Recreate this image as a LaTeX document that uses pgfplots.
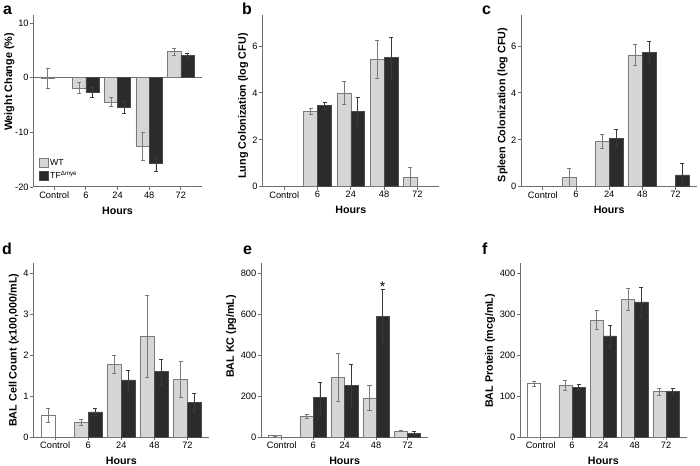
\documentclass[border=0pt]{standalone}
\usepackage{pgfplots}
\pgfplotsset{compat=1.18}
\usepackage{fontspec}
\setmainfont{Liberation Sans}
\definecolor{wtfill}{HTML}{D6D6D6}
\definecolor{wtdraw}{HTML}{7A7A7A}
\definecolor{tffill}{HTML}{2B2B2B}
\definecolor{tfdraw}{HTML}{4A4A4A}
\definecolor{axgray}{HTML}{6E6E6E}
\definecolor{errwt}{HTML}{7A7A7A}
\definecolor{errtf}{HTML}{3A3A3A}
\pgfplotsset{
 panel/.style={
  scale only axis,
  axis lines=left,
  axis line style={-, draw=axgray, line width=1bp},
  xmin=-0.66, xmax=4.66,
  xtick={0,1,2,3,4}, xticklabels={Control,6,24,48,72},
  tick align=outside, major tick length=3bp,
  tick style={draw=axgray, line width=0.8bp},
  ticklabel style={font=\fontsize{9.3}{11}\selectfont, inner sep=1.5bp},
  xlabel={Hours},
  xlabel style={font=\bfseries\fontsize{10.7}{12}\selectfont, at={(axis description cs:0.5,0)}, anchor=center, yshift=-23.5bp},
  ybar, bar width=0.42,
  clip=false,
 },
 ylab/.style 2 args={ylabel={#2}, ylabel style={font=\bfseries\fontsize{10.8}{12}\selectfont, at={(axis description cs:#1)}, anchor=center}},
 legimg/.style={legend image code/.code={\draw[##1] (0bp,-4.5bp) rectangle (9bp,4.5bp);}},
 wt/.style={fill=wtfill, draw=wtdraw, line width=0.6bp, bar shift=-0.21,
   error bars/.cd, y dir=both, y explicit,
   error bar style={draw=errwt, line width=0.6bp},
   error mark options={rotate=90, mark size=2bp, draw=errwt, line width=0.6bp}, /pgfplots/.cd},
 ctl/.style={fill=white, draw=wtdraw, line width=0.6bp, bar shift=-0.21,
   error bars/.cd, y dir=both, y explicit,
   error bar style={draw=errwt, line width=0.6bp},
   error mark options={rotate=90, mark size=2bp, draw=errwt, line width=0.6bp}, /pgfplots/.cd},
 tf/.style={fill=tffill, draw=tfdraw, line width=0.6bp, bar shift=0.21,
   error bars/.cd, y dir=both, y explicit,
   error bar style={draw=errtf, line width=0.6bp},
   error mark options={rotate=90, mark size=2bp, draw=errtf, line width=0.6bp}, /pgfplots/.cd},
}
\begin{document}
\begin{tikzpicture}
\useasboundingbox (0,0) rectangle (700bp,466bp);
% panel letters
\node[anchor=base west, inner sep=0pt, font=\bfseries\fontsize{16}{18}\selectfont] at (3bp,451bp) {a};
\node[anchor=base west, inner sep=0pt, font=\bfseries\fontsize{16}{18}\selectfont] at (242bp,451bp) {b};
\node[anchor=base west, inner sep=0pt, font=\bfseries\fontsize{16}{18}\selectfont] at (482bp,451bp) {c};
\node[anchor=base west, inner sep=0pt, font=\bfseries\fontsize{16}{18}\selectfont] at (2bp,211bp) {d};
\node[anchor=base west, inner sep=0pt, font=\bfseries\fontsize{16}{18}\selectfont] at (243bp,211bp) {e};
\node[anchor=base west, inner sep=0pt, font=\bfseries\fontsize{16}{18}\selectfont] at (482bp,211bp) {f};

% a
\begin{axis}[panel, at={(33.3bp,279bp)}, anchor=south west, width=168.4bp, height=172bp,
  ymin=-20, ymax=11.5, ytick={-20,-10,0,10}, yticklabels={-20,-10,0,10},
  ylab={-0.1425,0.61}{Weight Change (\%)},
  legend style={at={(axis description cs:0.035,0.03)}, anchor=south west, draw=none, fill=none,
    font=\fontsize{8.8}{10}\selectfont, row sep=1.5bp, inner sep=0pt, nodes={inner sep=1.2bp}},
  legend cell align=left, legimg]
\draw[axgray, line width=0.8bp] (axis cs:-0.66,0) -- (axis cs:4.66,0);
\addplot[forget plot, ctl] coordinates {(0,-0.1) +- (0,1.85)};
\addplot[wt] coordinates {(1,-1.85) +- (0,1.0) (2,-4.4) +- (0,0.75) (3,-12.6) +- (0,2.6) (4,4.8) +- (0,0.6)};
\addplot[tf] coordinates {(1,-2.6) +- (0,0.9) (2,-5.4) +- (0,1.1) (3,-15.7) +- (0,1.4) (4,4.1) +- (0,0.4)};
\legend{WT, TF\textsuperscript{Δmye}}
\end{axis}

% b
\begin{axis}[panel, at={(262.3bp,279.3bp)}, anchor=south west, width=177bp, height=171.7bp,
  ymin=0, ymax=7.32, ytick={0,2,4,6}, yticklabels={0,2,4,6},
  ylab={-0.109,0.47}{Lung Colonization (log CFU)}]
\addplot[wt] coordinates {(1,3.22) +- (0,0.14) (2,4.0) +- (0,0.5) (3,5.43) +- (0,0.83) (4,0.41) +- (0,0.4)};
\addplot[tf] coordinates {(1,3.45) +- (0,0.13) (2,3.2) +- (0,0.63) (3,5.5) +- (0,0.88)};
\end{axis}

% c
\begin{axis}[panel, at={(521bp,279.3bp)}, anchor=south west, width=176.3bp, height=171.7bp,
  ymin=0, ymax=7.32, ytick={0,2,4,6}, yticklabels={0,2,4,6},
  ylab={-0.105,0.476}{Spleen Colonization (log CFU)}]
\addplot[wt] coordinates {(1,0.41) +- (0,0.39) (2,1.92) +- (0,0.3) (3,5.62) +- (0,0.45)};
\addplot[tf] coordinates {(2,2.06) +- (0,0.4) (3,5.72) +- (0,0.47) (4,0.5) +- (0,0.5)};
\end{axis}

% d
\begin{axis}[panel, at={(33.3bp,28.7bp)}, anchor=south west, width=176bp, height=174bp,
  ymin=0, ymax=4.24, ytick={0,1,2,3,4}, yticklabels={0,1,2,3,4},
  ylab={-0.11,0.5}{BAL Cell Count (x100,000/mL)}]
\addplot[ctl] coordinates {(0,0.53) +- (0,0.17)};
\addplot[wt] coordinates {(1,0.37) +- (0,0.07) (2,1.78) +- (0,0.22) (3,2.46) +- (0,1.0) (4,1.41) +- (0,0.43)};
\addplot[tf] coordinates {(1,0.62) +- (0,0.09) (2,1.4) +- (0,0.23) (3,1.6) +- (0,0.3) (4,0.85) +- (0,0.22)};
\end{axis}

% e
\begin{axis}[panel, at={(261bp,28.7bp)}, anchor=south west, width=167.3bp, height=174bp,
  ymin=0, ymax=848, ytick={0,200,400,600,800}, yticklabels={0,200,400,600,800},
  ylab={-0.179,0.58}{BAL KC (pg/mL)}]
\addplot[ctl] coordinates {(0,8) +- (0,2)};
\addplot[wt] coordinates {(1,102) +- (0,10) (2,293) +- (0,117) (3,192) +- (0,60) (4,30) +- (0,3)};
\addplot[tf] coordinates {(1,193) +- (0,75) (2,252) +- (0,104) (3,590) +- (0,130) (4,20) +- (0,7)};
\node[anchor=base, inner sep=0pt, font=\fontsize{14}{16}\selectfont] at (axis cs:3.21,712) {*};
\end{axis}

% f
\begin{axis}[panel, at={(520bp,28.7bp)}, anchor=south west, width=166.7bp, height=174bp,
  ymin=0, ymax=424, ytick={0,100,200,300,400}, yticklabels={0,100,200,300,400},
  ylab={-0.18,0.496}{BAL Protein (mcg/mL)}]
\addplot[ctl] coordinates {(0,131) +- (0,6)};
\addplot[wt] coordinates {(1,127) +- (0,12) (2,286) +- (0,24) (3,336) +- (0,27) (4,111) +- (0,8)};
\addplot[tf] coordinates {(1,122) +- (0,7) (2,247) +- (0,27) (3,330) +- (0,35) (4,112) +- (0,8)};
\end{axis}
\end{tikzpicture}
\end{document}
